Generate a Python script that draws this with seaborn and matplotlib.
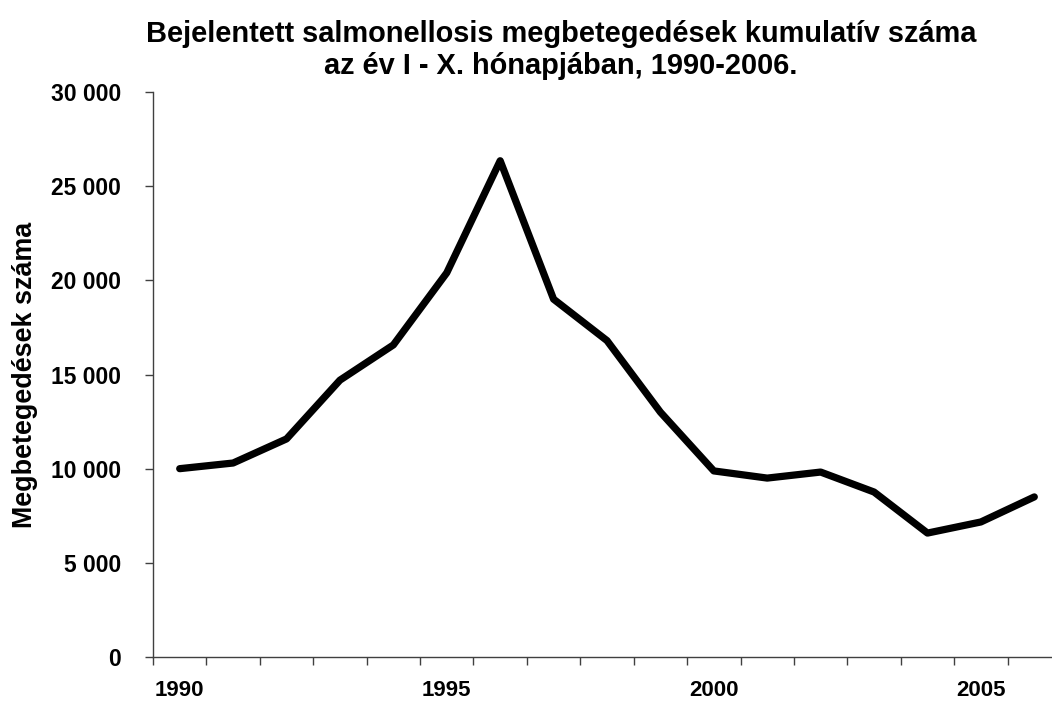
import numpy as np
import pandas as pd
import matplotlib
matplotlib.use('Agg')
import matplotlib.pyplot as plt
import seaborn as sns
from matplotlib.ticker import FuncFormatter, FixedLocator

# data
years = [1990, 1991, 1992, 1993, 1994, 1995, 1996, 1997, 1998,
         1999, 2000, 2001, 2002, 2003, 2004, 2005, 2006]
cases = [10000, 10300, 11580, 14700, 16570, 20400, 26350, 19000, 16800,
         13000, 9880, 9500, 9820, 8760, 6580, 7170, 8500]
labeled_years = [1990, 1995, 2000, 2005]
y_ticks = [0, 5000, 10000, 15000, 20000, 25000, 30000]

title = 'Bejelentett salmonellosis megbetegedések kumulatív száma\naz év I - X. hónapjában, 1990-2006.'
ylabel = 'Megbetegedések száma'

df = pd.DataFrame({'ev': years, 'eset': cases})

sns.set_style('white')
plt.rcParams['font.family'] = ['Liberation Sans', 'DejaVu Sans']

fig = plt.figure(figsize=(10.52, 7.02), dpi=100)
ax = fig.add_axes([153 / 1052, 45 / 702, 908 / 1052, 565 / 702])

sns.lineplot(data=df, x='ev', y='eset', color='black', linewidth=5.2, ax=ax)

ax.set_xlim(1989.5, 2006.5)
ax.set_ylim(0, 30000)

# category axis: marks between years, labels only every 5 years
ax.xaxis.set_major_locator(FixedLocator(labeled_years))
ax.xaxis.set_minor_locator(FixedLocator(np.arange(1989.5, 2007, 1.0)))
ax.tick_params(axis='x', which='both', bottom=True)
ax.tick_params(axis='x', which='major', length=0, pad=16.5, labelsize=16, labelcolor='black')
ax.tick_params(axis='x', which='minor', length=6, width=1, color='#404040', direction='out')
for lab in ax.get_xticklabels():
    lab.set_fontweight('bold')

ax.set_yticks(y_ticks)
ax.yaxis.set_major_formatter(FuncFormatter(lambda v, p: f'{int(v):,}'.replace(',', ' ')))
ax.tick_params(axis='y', left=True, length=6, width=1, color='#404040', direction='out',
               pad=17, labelsize=16.5, labelcolor='black')
for lab in ax.get_yticklabels():
    lab.set_fontweight('bold')

sns.despine(ax=ax)
for s in ['left', 'bottom']:
    ax.spines[s].set_color('#404040')
    ax.spines[s].set_linewidth(1)

ax.set_xlabel('')
ax.set_ylabel(ylabel, fontsize=19.4, fontweight='bold', color='black')
ax.yaxis.set_label_coords(-0.127, 0.5)
fig.suptitle(title, fontsize=20.9, fontweight='bold', color='black',
             x=561 / 1052, y=0.972, va='top', linespacing=1.19)

fig.savefig('out.png', dpi=100)
